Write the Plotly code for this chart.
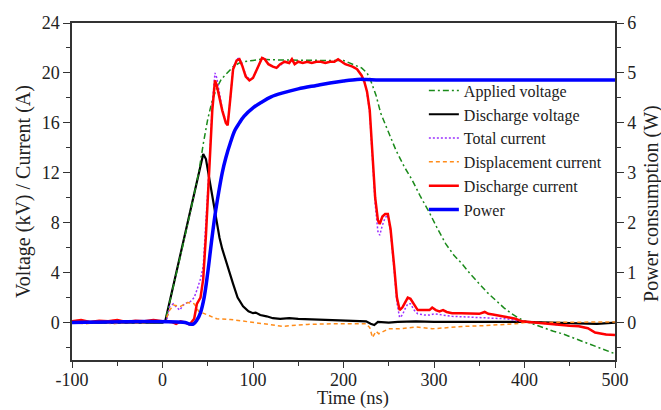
import plotly.graph_objects as go

# Applied voltage (kV)
t_applied = [-100, 0, 3, 10, 20, 30, 35, 40, 45, 50, 55, 60, 65, 70, 78, 85, 90, 100, 110, 120, 150, 180, 200,
             207, 215, 220, 226, 230, 236, 241, 250, 258, 267, 276, 285, 295, 304, 313, 322, 331, 340, 350, 359,
             368, 377, 386, 395, 405, 414, 423, 432, 442, 451, 460, 470, 479, 490, 500]
v_applied = [0, 0, 0.1, 2.2, 5.4, 8.6, 10.2, 12.0, 14.3, 16.3, 17.8, 18.8, 19.5, 19.9, 20.5, 20.8, 20.9, 21.0, 21.1,
             21.05, 21.0, 21.0, 21.0, 20.8, 20.6, 20.4, 20.0, 19.4, 18.2, 16.8, 15.2, 13.8, 12.5, 11.4, 10.1, 8.8,
             7.5, 6.3, 5.4, 4.7, 3.9, 3.1, 2.4, 1.8, 1.2, 0.7, 0.3, 0.0, -0.25, -0.5, -0.7, -0.9, -1.15, -1.4,
             -1.65, -1.9, -2.2, -2.5]

# Discharge voltage (kV)
t_dvolt = [-100, -60, -20, 0, 3, 10, 19, 27, 34, 41, 45, 48, 52, 56, 60, 63, 66, 70, 74, 78, 83, 89, 95, 100,
           103, 108, 115, 122, 130, 140, 150, 170, 190, 210, 225, 230, 234, 238, 250, 260, 280, 300, 350, 400,
           450, 480, 500]
v_dvolt = [0, 0.02, 0, 0, 0.1, 2.3, 5.2, 7.8, 10.0, 12.3, 13.5, 13.1, 11.4, 9.8, 8.3, 6.8, 5.9, 4.9, 3.9, 3.1,
           2.0, 1.3, 0.9, 0.75, 0.8, 0.6, 0.5, 0.35, 0.3, 0.35, 0.3, 0.25, 0.2, 0.15, 0.1, -0.1, -0.2, 0.05,
           0.0, 0.05, 0.1, 0.05, 0.05, 0.05, -0.05, -0.1, 0.0]

# Total current (A)
t_total = [-100, -90, -80, -70, -60, -50, -40, -30, -20, -10, 0, 5, 8, 12, 16, 19, 23, 27, 31, 35, 38, 42, 45,
           48, 52, 55, 58, 60, 63, 66, 70, 72, 75, 78, 82, 85, 88, 92, 96, 100, 105, 110, 113, 117, 122, 126,
           130, 135, 140, 143, 146, 150, 155, 160, 165, 170, 175, 180, 185, 190, 194, 198, 202, 206, 210, 215,
           220, 223, 226, 229, 232, 235, 238, 240, 243, 246, 249, 252, 256, 259, 262, 265, 268, 271, 274, 278,
           282, 290, 295, 300, 310, 320, 335, 350, 365, 380, 395, 405, 420, 440, 460, 470, 478, 490, 500]
i_total = [0.1, 0.2, 0.05, 0.15, 0.1, 0.2, 0.05, 0.15, 0.1, 0.2, 0.1, 0.3, 1.3, 1.5, 1.2, 1.0, 1.4, 1.6, 1.7,
           2.0, 2.6, 3.5, 4.5, 8.0, 13.0, 17.5, 20.0, 19.6, 18.3, 17.1, 16.1, 15.9, 18.0, 20.4, 21.1, 21.2,
           20.7, 19.8, 19.5, 19.6, 20.4, 21.2, 21.2, 20.7, 20.5, 20.4, 20.6, 20.9, 20.8, 21.1, 20.7, 20.9,
           20.8, 20.9, 20.8, 20.9, 20.9, 20.8, 20.9, 20.9, 21.1, 20.9, 20.7, 20.6, 20.5, 20.3, 19.8, 19.3,
           18.4, 16.8, 13.2, 9.5, 7.3, 7.0, 7.8, 8.4, 8.6, 7.3, 4.2, 1.6, 0.4, 0.6, 1.1, 1.5, 1.5, 1.0, 0.7,
           0.6, 0.6, 0.7, 0.6, 0.5, 0.45, 0.4, 0.35, 0.3, 0.1, 0.05, -0.05, -0.2, -0.3, -0.45, -0.8, -0.95, -1.0]

# Displacement current (A)
t_disp = [-100, -85, -70, -55, -40, -25, -10, 0, 3, 8, 12, 20, 28, 35, 40, 50, 60, 75, 96, 115, 133, 160, 188,
          225, 229, 232, 236, 239, 250, 262, 280, 298, 320, 335, 355, 372, 390, 400, 420, 450, 480, 500]
i_disp = [0.0, -0.1, 0.05, -0.1, 0.0, -0.05, 0.05, 0.0, 0.1, 1.0, 1.4, 1.3, 1.6, 1.5, 0.9, 0.6, 0.3, 0.25, 0.05,
          -0.1, -0.3, -0.15, -0.1, -0.1, -0.4, -1.2, -0.7, -0.9, -0.5, -0.5, -0.35, -0.5, -0.35, -0.3, -0.25,
          -0.2, -0.1, 0.0, 0.0, 0.0, 0.05, 0.05]

# Discharge current (A)
t_dcur = [-100, -90, -80, -70, -60, -50, -40, -30, -20, -10, 0, 10, 15, 20, 25, 30, 35, 38, 42, 45, 48, 52, 55,
          58, 60, 63, 66, 70, 72, 75, 78, 82, 85, 88, 92, 96, 100, 105, 110, 113, 117, 122, 126, 130, 135, 140,
          143, 146, 150, 155, 160, 165, 170, 175, 180, 185, 190, 194, 198, 202, 206, 210, 215, 220, 223, 226,
          229, 232, 235, 238, 240, 243, 246, 249, 252, 256, 259, 262, 265, 268, 271, 274, 278, 282, 290, 295,
          298, 302, 306, 310, 314, 320, 330, 340, 350, 356, 360, 365, 370, 380, 390, 397, 405, 412, 420, 430,
          440, 450, 460, 470, 478, 490, 500]
i_dcur = [0.1, 0.2, 0.05, 0.15, 0.1, 0.2, 0.05, 0.15, 0.1, 0.2, 0.1, 0.05, -0.1, 0.1, 0.0, -0.15, 0.3, 1.5,
          2.0, 3.5, 7.0, 12.5, 17.0, 19.4, 19.0, 18.0, 17.0, 16.0, 15.8, 18.0, 20.3, 21.0, 21.1, 20.6, 19.7,
          19.4, 19.6, 20.4, 21.2, 21.1, 20.7, 20.5, 20.4, 20.7, 20.9, 20.8, 21.1, 20.7, 20.9, 20.8, 20.9, 20.8,
          20.9, 20.9, 20.8, 20.9, 20.9, 21.1, 20.9, 20.7, 20.6, 20.5, 20.3, 19.8, 19.3, 18.5, 17.0, 13.5, 10.0,
          8.2, 7.9, 8.5, 8.7, 8.7, 7.5, 4.5, 2.0, 1.0, 1.2, 1.6, 2.0, 1.9, 1.4, 1.0, 1.0, 1.0, 1.2, 1.0, 0.9,
          1.0, 0.85, 0.75, 0.75, 0.7, 0.7, 0.85, 0.7, 0.65, 0.6, 0.45, 0.3, 0.1, 0.05, 0.0, -0.05, -0.15, -0.2,
          -0.25, -0.3, -0.45, -0.8, -0.95, -1.0]

# Power consumption (W)
t_power = [-100, 25, 30, 34, 38, 42, 46, 50, 54, 58, 62, 66, 70, 75, 80, 85, 90, 100, 110, 120, 133, 150, 170,
           185, 200, 215, 225, 240, 300, 400, 500]
p_power = [0, 0, -0.03, -0.03, 0.05, 0.2, 0.5, 1.0, 1.6, 2.15, 2.6, 3.0, 3.3, 3.6, 3.85, 4.0, 4.13, 4.3, 4.42,
           4.52, 4.6, 4.68, 4.75, 4.8, 4.84, 4.87, 4.87, 4.86, 4.86, 4.86, 4.86]

# Tick labels
x_ticks = [-100, 0, 100, 200, 300, 400, 500]
x_ticklabels = ["-100", "0", "100", "200", "300", "400", "500"]
y_ticks = [0, 4, 8, 12, 16, 20, 24]
y_ticklabels = ["0", "4", "8", "12", "16", "20", "24"]
y2_ticks = [0, 1, 2, 3, 4, 5, 6]
y2_ticklabels = ["0", "1", "2", "3", "4", "5", "6"]

FONT = "Liberation Serif"
TXT = "#222222"
axcol = "#333333"

fig = go.Figure()
fig.add_trace(go.Scatter(x=t_dvolt, y=v_dvolt, name="Discharge voltage", mode="lines", legendrank=2,
                         line=dict(color="black", width=2.2)))
fig.add_trace(go.Scatter(x=t_applied, y=v_applied, name="Applied voltage", mode="lines", legendrank=1,
                         line=dict(color="#1a8a1a", width=1.5, dash="6px,3px,2px,3px")))
fig.add_trace(go.Scatter(x=t_total, y=i_total, name="Total current", mode="lines", legendrank=3,
                         line=dict(color="#9b30ff", width=1.5, dash="2px,2px")))
fig.add_trace(go.Scatter(x=t_disp, y=i_disp, name="Displacement current", mode="lines", legendrank=4,
                         line=dict(color="#ff8c1a", width=1.5, dash="4px,3px")))
fig.add_trace(go.Scatter(x=t_dcur, y=i_dcur, name="Discharge current", mode="lines", legendrank=5,
                         line=dict(color="#ff0000", width=2.5)))
fig.add_trace(go.Scatter(x=t_power, y=p_power, name="Power", mode="lines", yaxis="y2", legendrank=6,
                         line=dict(color="#0000ff", width=3.5, shape="spline")))

fig.update_layout(
    width=661, height=410,
    margin=dict(l=72, r=46, t=23, b=50, autoexpand=False),
    plot_bgcolor="white", paper_bgcolor="white",
    font=dict(family=FONT, size=18, color=TXT),
    showlegend=True,
    legend=dict(x=0.648, y=0.85, xanchor="left", yanchor="top", bgcolor="rgba(0,0,0,0)",
                font=dict(family=FONT, size=16, color=TXT), tracegroupgap=0, itemwidth=30),
    xaxis=dict(range=[-100, 500], tickvals=x_ticks, ticktext=x_ticklabels, ticks="outside", ticklen=6,
               tickwidth=1.2, tickcolor=axcol, showline=True, linecolor=axcol, linewidth=1.5, mirror=True,
               showgrid=False, zeroline=False, automargin=False, ticklabelstandoff=-3,
               minor=dict(dtick=50, ticks="outside", ticklen=4, tickcolor=axcol, showgrid=False)),
    yaxis=dict(range=[-3, 24], tickvals=y_ticks, ticktext=y_ticklabels, ticks="outside", ticklen=7,
               tickwidth=1.2, tickcolor=axcol, showline=True, linecolor=axcol, linewidth=1.5,
               showgrid=False, zeroline=False, automargin=False,
               minor=dict(dtick=2, ticks="outside", ticklen=4, tickcolor=axcol, showgrid=False)),
    yaxis2=dict(range=[-0.75, 6], tickvals=y2_ticks, ticktext=y2_ticklabels, ticks="outside", ticklen=7,
                tickwidth=1.2, tickcolor=axcol, showline=True, linecolor=axcol, linewidth=1.5,
                overlaying="y", side="right", showgrid=False, zeroline=False, automargin=False,
                minor=dict(dtick=0.5, ticks="outside", ticklen=4, tickcolor=axcol, showgrid=False)),
    annotations=[
        dict(text="Time (ns)", xref="paper", yref="paper", x=0.5175, y=-0.113, xanchor="center",
             yanchor="middle", showarrow=False, font=dict(family=FONT, size=18.5, color=TXT)),
        dict(text="Voltage (kV) / Current (A)", xref="paper", yref="paper", x=-0.0884, y=0.5015,
             xanchor="center", yanchor="middle", textangle=-90, showarrow=False,
             font=dict(family=FONT, size=20, color=TXT)),
        dict(text="Power consumption (W)", xref="paper", yref="paper", x=1.068, y=0.466,
             xanchor="center", yanchor="middle", textangle=-90, showarrow=False,
             font=dict(family=FONT, size=20, color=TXT)),
    ],
)

fig.write_html("out.html", config={"displayModeBar": False},
               post_script="document.body.style.margin='0px';document.body.style.overflow='hidden';")
